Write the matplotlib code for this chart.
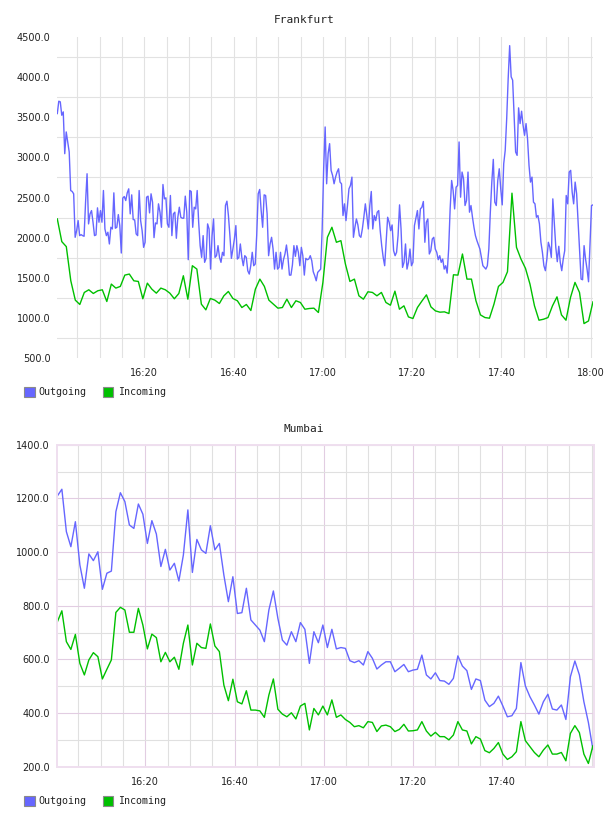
import matplotlib
matplotlib.use('Agg')
import matplotlib.pyplot as plt
import numpy as np
from matplotlib.patches import Rectangle
from matplotlib.ticker import FuncFormatter, MultipleLocator, FixedLocator

BLUE = '#6666ff'
GREEN = '#00c000'
W, H = 608, 816

# Frankfurt: outgoing sampled every 20 s, incoming every minute, 16:00 -> 18:00
fra_out = [
    3546, 3700, 3692, 3525, 3567, 3046, 3317, 3192, 3067, 2587,
    2575, 2546, 2004, 2087, 2212, 2025, 2037, 2025, 2017, 2442,
    2796, 2171, 2296, 2337, 2192, 2025, 2033, 2371, 2192, 2337,
    2192, 2587, 2108, 2025, 2067, 1921, 2129, 2108, 2558, 2117,
    2129, 2287, 2150, 1808, 2492, 2512, 2462, 2558, 2608, 2296,
    2533, 2225, 2221, 2046, 2025, 2587, 2212, 2087, 1879, 1942,
    2504, 2517, 2308, 2546, 2442, 2000, 2183, 2171, 2421, 2317,
    2129, 2662, 2483, 2496, 2171, 2129, 2525, 2025, 2296, 2317,
    1992, 2254, 2379, 2254, 2242, 2242, 2517, 2317, 1725, 2587,
    2575, 2129, 2379, 2358, 2587, 2192, 1900, 1754, 2025, 1692,
    1742, 2171, 2108, 1608, 2025, 2233, 1754, 1775, 1900, 1754,
    1692, 1817, 1775, 2400, 2454, 2275, 2025, 1742, 1858, 1983,
    2150, 1733, 1754, 1921, 1754, 1650, 1775, 1754, 1587, 1546,
    1650, 1817, 1650, 1671, 2025, 2546, 2600, 2337, 2129, 2533,
    2525, 2296, 1775, 1921, 2004, 1858, 1608, 1817, 1608, 1629,
    1817, 1608, 1725, 1796, 1908, 1754, 1533, 1533, 1658, 1900,
    1767, 1900, 1817, 1650, 1879, 1775, 1533, 1742, 1725, 1733,
    1775, 1713, 1575, 1525, 1462, 1567, 1587, 1608, 2108, 2858,
    3379,
    2671, 3046, 3171, 2837, 2775, 2671, 2754, 2817, 2858, 2692,
    2671, 2275, 2421, 2212, 2400, 2608, 2650, 2754, 2004, 2129,
    2233, 2158, 2025, 2004, 2108, 2254, 2421, 2275, 2108, 2400,
    2575, 2108, 2275, 2212, 2317, 2337, 2087, 1900, 1754, 1650,
    1942, 2254, 2192, 2087, 2158, 1838, 1775, 1817, 2025, 2408,
    2108, 1629, 1692, 1921, 1608, 1692, 1858, 1650, 1692, 2150,
    2242, 2337, 2108, 2358, 2379, 2450, 1942, 2192, 2233, 1796,
    1838, 1983, 2004, 1858, 1817, 1725, 1775, 1692, 1733, 1608,
    1650, 1558, 1858, 2358, 2712, 2587, 2358, 2629, 2650, 3192,
    2504, 2817, 2733, 2400, 2462, 2817, 2317, 2400, 2254, 2129,
    2025, 1962, 1908, 1858, 1754, 1650, 1629, 1608, 1650, 1858,
    2317, 2692, 2975, 2442, 2400, 2712, 2858, 2608, 2408, 2921,
    3087, 3483, 3983, 4392, 4004, 3962, 3504, 3067, 3025, 3617,
    3421, 3575, 3400, 3275, 3421, 3233, 2900, 2692, 2754, 2442,
    2421, 2254, 2275, 2171, 1942, 1817, 1650, 1588, 1733, 1942,
    1879, 1754, 2483, 2171, 1879, 1700, 1892, 1692, 1588, 1733,
    1838, 2525, 2421, 2817, 2838, 2567, 2421, 2692, 2546, 2192,
    1817, 1483, 1475, 1900, 1733, 1608, 1450, 1942, 2400, 2408,
]
fra_in = [
    2233, 1950, 1888, 1462, 1221, 1167, 1317, 1350, 1304, 1338,
    1350, 1204, 1421, 1371, 1392, 1533, 1546, 1462, 1454, 1238,
    1433, 1358, 1308, 1371, 1350, 1308, 1238, 1304, 1525, 1233,
    1650, 1608, 1171, 1100, 1242, 1221, 1179, 1275, 1329, 1242,
    1213, 1129, 1167, 1092, 1358, 1483, 1392, 1221, 1171, 1121,
    1129, 1233, 1129, 1213, 1192, 1108, 1117, 1121, 1067, 1442,
    2004, 2129, 1942, 1962, 1671, 1454, 1483, 1275, 1233, 1325,
    1317, 1275, 1317, 1192, 1158, 1333, 1108, 1150, 1012, 992,
    1129, 1210, 1287, 1137, 1087, 1071, 1075, 1054, 1537, 1533,
    1796, 1483, 1483, 1212, 1037, 1004, 996, 1171, 1392, 1442,
    1575, 2554, 1879, 1733, 1617, 1421, 1150, 971, 983, 1004,
    1150, 1262, 1037, 971, 1254, 1442, 1317, 929, 962, 1200,
]

# Mumbai: both series sampled every minute
mum_out = [
    1209, 1234, 1076, 1020, 1113, 952, 865, 993, 968, 1001,
    861, 921, 929, 1150, 1221, 1188, 1101, 1088, 1179, 1141,
    1032, 1117, 1067, 946, 1010, 933, 958, 892, 989, 1157,
    924, 1047, 1008, 995, 1098, 1008, 1032, 914, 815, 908,
    771, 774, 865, 747, 728, 709, 666, 784, 855, 753,
    672, 653, 703, 666,
    737, 712, 585, 703, 662, 728, 644, 712, 639, 644,
    641, 595, 588, 595, 579, 629, 604, 564, 579, 591,
    591, 554, 567, 581, 554, 560, 563, 616, 542, 527,
    550, 521, 519, 507, 529, 613, 575, 558, 488, 527,
    521, 448, 424, 436, 463, 426, 386, 390, 417, 588,
    501, 461, 430, 396, 442, 470, 415, 411, 430, 376,
    535, 594, 542, 442, 365, 265,
]
mum_in = [
    740, 781, 666, 637, 693, 585, 542, 598, 625, 610,
    527, 563, 598, 775, 794, 784, 701, 701, 790, 728,
    639, 694, 681, 591, 626, 591, 608, 563, 660, 728,
    579, 660, 644, 641, 732, 650, 629, 504, 446, 526,
    442, 434, 483, 411, 411, 408, 384, 467, 527, 414,
    396, 386, 401, 378,
    426, 436, 337, 417, 393, 426, 393, 449, 384, 393,
    376, 365, 349, 353, 345, 368, 365, 331, 352, 355,
    349, 331, 339, 358, 333, 334, 337, 368, 333, 314,
    328, 312, 312, 300, 318, 368, 337, 333, 285, 312,
    303, 260, 252, 268, 290, 247, 227, 237, 256, 368,
    297, 275, 253, 237, 262, 281, 247, 247, 253, 222,
    324, 353, 327, 247, 212, 278,
]
mum_xticks = [20, 40, 60, 80, 100]  # 16:20 .. 17:40

TICK_FONT = dict(family='DejaVu Sans', size=7, color='#222222')
MONO = 'DejaVu Sans Mono'


def hhmm(m, pos=None):
    m = int(round(m))
    return f'{16 + m // 60}:{m % 60:02d}'


def axes_px(fig, left, top, right, bottom):
    return fig.add_axes([left / W, 1 - bottom / H, (right - left) / W, (bottom - top) / H])


def style_axes(ax, ylim, ystep, xlim, frame):
    ax.set_xlim(*xlim)
    ax.set_ylim(*ylim)
    ax.xaxis.set_major_locator(MultipleLocator(20))
    ax.xaxis.set_minor_locator(MultipleLocator(5))
    ax.xaxis.set_major_formatter(FuncFormatter(hhmm))
    ax.yaxis.set_major_locator(MultipleLocator(ystep))
    ax.yaxis.set_major_formatter(FuncFormatter(lambda v, p: f'{v:.1f}'))
    ax.tick_params(which='both', length=0)
    ax.tick_params(axis='x', pad=7.5)
    ax.tick_params(axis='y', pad=5)
    ax.set_axisbelow(True)
    for s in ax.spines.values():
        if frame:
            s.set_color(frame)
            s.set_linewidth(1.4)
        else:
            s.set_visible(False)


def fix_labels(ax):
    for lab in ax.get_xticklabels() + ax.get_yticklabels():
        lab.set_fontfamily(TICK_FONT['family'])
        lab.set_fontsize(TICK_FONT['size'])
        lab.set_color(TICK_FONT['color'])


def legend(fig, y):
    for x0, col, txt, tx in [(24, BLUE, 'Outgoing', 38.5), (102.5, GREEN, 'Incoming', 118)]:
        fig.add_artist(Rectangle((x0 / W, 1 - (y + 5) / H), 10.5 / W, 10 / H,
                                 transform=fig.transFigure, facecolor=col,
                                 edgecolor='#8a8a8a', linewidth=0.8))
        fig.text(tx / W, 1 - y / H, txt, family=MONO, fontsize=7.2,
                 color='#222222', ha='left', va='center')


fig = plt.figure(figsize=(W / 100, H / 100), dpi=100)
fig.patch.set_facecolor('white')

# ---- Frankfurt
ax1 = axes_px(fig, 57.3, 37, 593, 358)
t_out = np.linspace(0.5, 120.5, len(fra_out))
t_in = np.linspace(0.5, 120.5, len(fra_in))
ax1.plot(t_out, fra_out, color=BLUE, lw=1.0)
ax1.plot(t_in, fra_in, color=GREEN, lw=1.0)
style_axes(ax1, (500, 4500), 500, (0.5, 120.5), None)
ax1.set_yticks(np.arange(750, 4500, 500), minor=True)
ax1.grid(True, axis='x', which='both', color='#e2e2e2', lw=0.8)
ax1.grid(True, axis='y', which='minor', color='#e2e2e2', lw=0.8)
fix_labels(ax1)
fig.text(304.5 / W, 1 - 20 / H, 'Frankfurt', family=MONO, fontsize=8,
         color='#222222', ha='center', va='center')
legend(fig, 392.3)

# ---- Mumbai
ax2 = axes_px(fig, 56.7, 444.7, 594, 766.7)
t_out2 = np.linspace(0.3, 120.3, len(mum_out))
t_in2 = np.linspace(0.3, 120.3, len(mum_in))
ax2.plot(t_out2, mum_out, color=BLUE, lw=1.0)
ax2.plot(t_in2, mum_in, color=GREEN, lw=1.0)
style_axes(ax2, (200, 1400), 200, (0.15, 120.55), '#efdfef')
ax2.xaxis.set_major_locator(FixedLocator(mum_xticks))
ax2.yaxis.set_minor_locator(MultipleLocator(100))
ax2.grid(True, which='minor', color='#e0e0e0', lw=0.8)
ax2.grid(True, which='major', color='#e2cde2', lw=0.8)
fix_labels(ax2)
fig.text(303.5 / W, 1 - 429.5 / H, 'Mumbai', family=MONO, fontsize=8,
         color='#222222', ha='center', va='center')
legend(fig, 800.7)

fig.savefig('out.png', dpi=100, facecolor='white')
